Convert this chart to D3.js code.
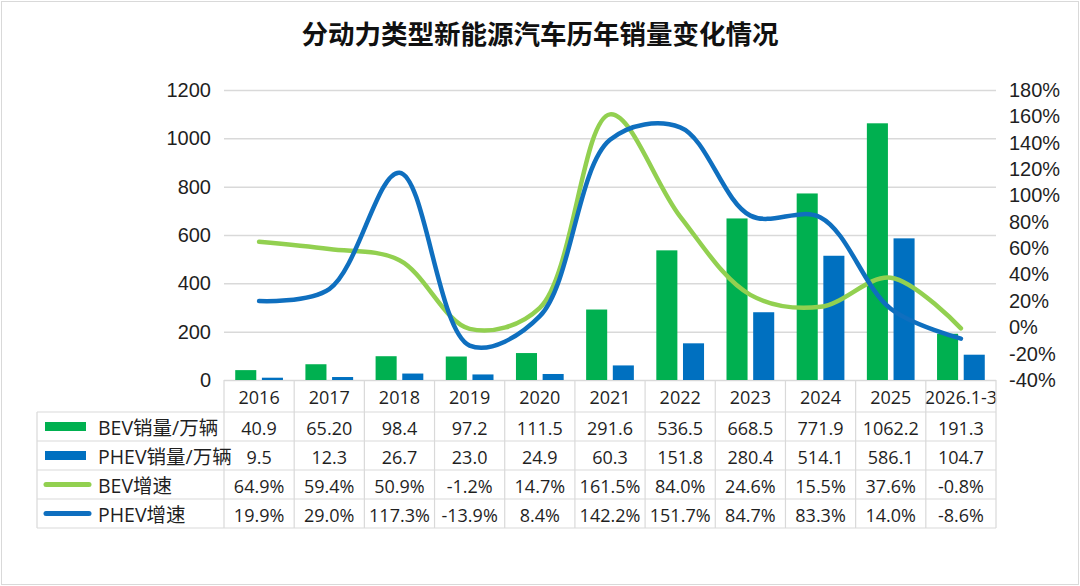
<!DOCTYPE html>
<html>
<head>
<meta charset="utf-8">
<script src="https://cdn.jsdelivr.net/npm/d3@7"></script>
<style>
  body { margin: 0; background: #fff; }
  svg { display: block; font-family: "Open Sans", "Noto Sans CJK SC", sans-serif; }
</style>
</head>
<body>
<div id="viz"></div>
<script>
// data
var years = ["2016", "2017", "2018", "2019", "2020", "2021", "2022", "2023", "2024", "2025", "2026.1-3"];
var bevSales = [40.9, 65.2, 98.4, 97.2, 111.5, 291.6, 536.5, 668.5, 771.9, 1062.2, 191.3];
var bevSalesText = ["40.9", "65.20", "98.4", "97.2", "111.5", "291.6", "536.5", "668.5", "771.9", "1062.2", "191.3"];
var phevSales = [9.5, 12.3, 26.7, 23.0, 24.9, 60.3, 151.8, 280.4, 514.1, 586.1, 104.7];
var bevGrowth = [64.9, 59.4, 50.9, -1.2, 14.7, 161.5, 84.0, 24.6, 15.5, 37.6, -0.8];
var phevGrowth = [19.9, 29.0, 117.3, -13.9, 8.4, 142.2, 151.7, 84.7, 83.3, 14.0, -8.6];
var leftTicks = [0, 200, 400, 600, 800, 1000, 1200];
var rightTicks = [-40, -20, 0, 20, 40, 60, 80, 100, 120, 140, 160, 180];

var W = 1080, H = 586;
var plot = { left: 224, right: 996, top: 90, bottom: 380 };
var rowH = 29;
var headerH = 32;
var tableLeft = 37;

var cBevBar = "#00b050", cPhevBar = "#0070c0";
var cBevLine = "#92d050", cPhevLine = "#0f6fbf";
var gridColor = "#d9d9d9", textColor = "#1f1f1f";

var svg = d3.select("#viz").append("svg")
  .attr("width", W)
  .attr("height", H);

svg.append("rect")
  .attr("x", 1.5).attr("y", 1.5)
  .attr("width", W - 3).attr("height", H - 3)
  .attr("fill", "#fff")
  .attr("stroke", gridColor);

svg.append("text")
  .attr("x", W / 2).attr("y", 44)
  .attr("text-anchor", "middle")
  .style("font-family", "'Noto Sans CJK SC', sans-serif")
  .style("font-weight", 700)
  .style("font-size", "26.5px")
  .attr("fill", "#111")
  .text("分动力类型新能源汽车历年销量变化情况");

var x = d3.scaleBand().domain(years).range([plot.left, plot.right]);
var yL = d3.scaleLinear().domain([0, 1200]).range([plot.bottom, plot.top]);
var yR = d3.scaleLinear().domain([-40, 180]).range([plot.bottom, plot.top]);
var bw = x.bandwidth();

// gridlines
svg.append("g")
  .selectAll("line")
  .data(leftTicks)
  .enter().append("line")
    .attr("x1", plot.left).attr("x2", plot.right)
    .attr("y1", function(d) { return yL(d) + 0.5; })
    .attr("y2", function(d) { return yL(d) + 0.5; })
    .attr("stroke", gridColor)
    .attr("stroke-width", 1.5);

// left axis
var axL = svg.append("g")
  .attr("transform", "translate(" + (plot.left - 13) + ",0)")
  .call(d3.axisLeft(yL).tickValues(leftTicks).tickSize(0).tickPadding(0)
    .tickFormat(d3.format("d")));
axL.select(".domain").remove();
axL.selectAll("text").style("font-size", "20px").attr("fill", textColor);

// right axis
var axR = svg.append("g")
  .attr("transform", "translate(" + (plot.right + 13) + ",0)")
  .call(d3.axisRight(yR).tickValues(rightTicks).tickSize(0).tickPadding(0)
    .tickFormat(function(d) { return d + "%"; }));
axR.select(".domain").remove();
axR.selectAll("text").style("font-size", "20px").attr("fill", textColor);

// bars
var barW = bw * 0.3, barGap = bw * 0.08, barPad = bw * 0.16;

svg.append("g")
  .selectAll("rect")
  .data(bevSales)
  .enter().append("rect")
    .attr("x", function(d, i) { return x(years[i]) + barPad; })
    .attr("y", function(d) { return yL(d); })
    .attr("width", barW)
    .attr("height", function(d) { return yL(0) - yL(d); })
    .attr("fill", cBevBar);

svg.append("g")
  .selectAll("rect")
  .data(phevSales)
  .enter().append("rect")
    .attr("x", function(d, i) { return x(years[i]) + barPad + barW + barGap; })
    .attr("y", function(d) { return yL(d); })
    .attr("width", barW)
    .attr("height", function(d) { return yL(0) - yL(d); })
    .attr("fill", cPhevBar);

// growth lines
var line = d3.line()
  .x(function(d, i) { return x(years[i]) + bw / 2; })
  .y(function(d) { return yR(d); })
  .curve(d3.curveCatmullRom.alpha(0.5));

svg.append("path")
  .datum(bevGrowth)
  .attr("d", line)
  .attr("fill", "none")
  .attr("stroke", cBevLine)
  .attr("stroke-width", 4.5)
  .attr("stroke-linecap", "round");

svg.append("path")
  .datum(phevGrowth)
  .attr("d", line)
  .attr("fill", "none")
  .attr("stroke", cPhevLine)
  .attr("stroke-width", 4.5)
  .attr("stroke-linecap", "round");

// data table
var pct = function(v) { return v.toFixed(1) + "%"; };
var rows = [
  { label: "BEV销量/万辆", cells: bevSalesText, kind: "bar", color: cBevBar },
  { label: "PHEV销量/万辆", cells: phevSales.map(function(v) { return v.toFixed(1); }), kind: "bar", color: cPhevBar },
  { label: "BEV增速", cells: bevGrowth.map(pct), kind: "line", color: cBevLine },
  { label: "PHEV增速", cells: phevGrowth.map(pct), kind: "line", color: cPhevLine }
];

var tableTop = plot.bottom + headerH;
var tableBottom = tableTop + rows.length * rowH;
var table = svg.append("g").attr("stroke-width", 1.2);

// header row: year labels
table.selectAll(".year")
  .data(years)
  .enter().append("text")
    .attr("class", "year")
    .attr("x", function(d) { return x(d) + bw / 2; })
    .attr("y", plot.bottom + headerH / 2 + 1)
    .attr("text-anchor", "middle")
    .attr("dominant-baseline", "central")
    .style("font-size", "18px")
    .attr("fill", textColor)
    .text(function(d) { return d; });

// vertical lines between columns
var colEdges = years.map(function(d) { return x(d); }).concat([plot.right]);
table.selectAll(".vline")
  .data(colEdges)
  .enter().append("line")
    .attr("x1", function(d) { return d; }).attr("x2", function(d) { return d; })
    .attr("y1", plot.bottom).attr("y2", tableBottom)
    .attr("stroke", gridColor);

table.append("line")
  .attr("x1", tableLeft).attr("x2", tableLeft)
  .attr("y1", tableTop).attr("y2", tableBottom)
  .attr("stroke", gridColor);

// horizontal lines
var rowEdges = d3.range(rows.length + 1).map(function(i) { return tableTop + i * rowH; });
table.selectAll(".hline")
  .data(rowEdges)
  .enter().append("line")
    .attr("x1", tableLeft).attr("x2", plot.right)
    .attr("y1", function(d) { return d; }).attr("y2", function(d) { return d; })
    .attr("stroke", gridColor);

var row = table.selectAll(".row")
  .data(rows)
  .enter().append("g")
    .attr("transform", function(d, i) { return "translate(0," + (tableTop + i * rowH + rowH / 2) + ")"; });

row.each(function(r) {
  var g = d3.select(this);
  if (r.kind === "bar") {
    g.append("rect")
      .attr("x", 45).attr("y", -4.5)
      .attr("width", 41).attr("height", 9)
      .attr("fill", r.color);
  } else {
    g.append("line")
      .attr("x1", 46).attr("x2", 89)
      .attr("y1", 0).attr("y2", 0)
      .attr("stroke", r.color)
      .attr("stroke-width", 5)
      .attr("stroke-linecap", "round");
  }
});

row.append("text")
  .attr("x", 98)
  .attr("y", 1)
  .attr("dominant-baseline", "central")
  .style("font-size", "19.5px")
  .attr("fill", textColor)
  .text(function(d) { return d.label; });

row.selectAll(".cell")
  .data(function(d) { return d.cells; })
  .enter().append("text")
    .attr("x", function(d, i) { return x(years[i]) + bw / 2; })
    .attr("y", 1)
    .attr("text-anchor", "middle")
    .attr("dominant-baseline", "central")
    .style("font-size", "18px")
    .attr("fill", textColor)
    .text(function(d) { return d; });
</script>
</body>
</html>
